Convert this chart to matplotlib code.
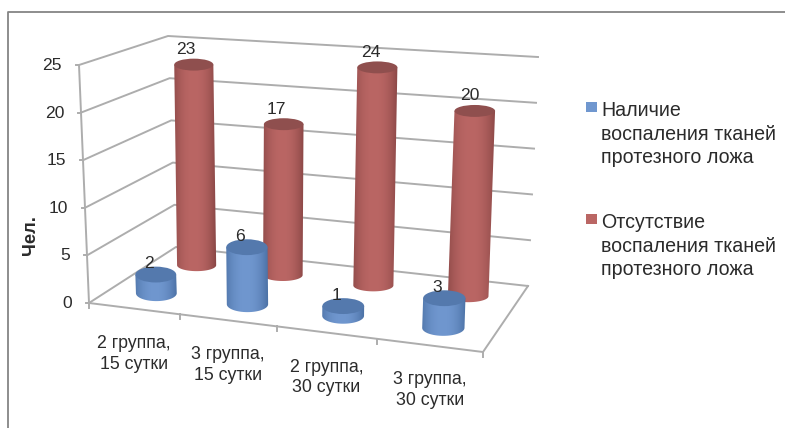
import matplotlib

matplotlib.use("Agg")
import matplotlib.pyplot as plt
import numpy as np
from matplotlib.patches import Ellipse, PathPatch, Rectangle
from matplotlib.path import Path

plt.rcParams["font.family"] = ["Liberation Sans", "DejaVu Sans"]

categories = ["2 группа,\n15 сутки", "3 группа,\n15 сутки", "2 группа,\n30 сутки", "3 группа,\n30 сутки"]
inflamed = [2, 6, 1, 3]
not_inflamed = [23, 17, 24, 20]
y_ticks = [0, 5, 10, 15, 20, 25]
y_label = "Чел."
legend_labels = ["Наличие\nвоспаления тканей\nпротезного ложа", "Отсутствие\nвоспаления тканей\nпротезного ложа"]

# box corners on screen, in pixels: (front-left, back-left, back-right, front-right)
FLOOR = np.array([[89, 303], [176, 247], [528, 286], [483, 352]], dtype=float)
ROOF = np.array([[79, 65], [168, 36], [538, 57], [494, 94]], dtype=float)
VMAX = 25.0
PERSPECTIVE = 0.095

TEXT = "#2b2b2b"
GRID = "#adadad"
RED = {"edge": "#8a4746", "mid": "#ba6664", "top": "#8f4f4e"}
BLUE = {"edge": "#4c72a6", "mid": "#7097cf", "top": "#5479ad"}


def project(u, d, v):
    # u along the categories, d into the depth, v is the chart value
    u = u + PERSPECTIVE * u * (u - 1)

    def corners(c):
        front = c[0] + (c[3] - c[0]) * u
        back = c[1] + (c[2] - c[1]) * u
        return front + (back - front) * d

    low = corners(FLOOR)
    return low + (corners(ROOF) - low) * (v / VMAX)


def to_rgb(h):
    return np.array(matplotlib.colors.to_rgb(h))


def cylinder(ax, u, d, value, colors, zorder):
    bx, by = project(u, d, 0)
    tx, ty = project(u, d, value)
    # the back row leans a little less than the walls do
    tx += 7 * (d - 0.27) * (1 - u)
    ty += 3 * (d - 0.27)
    # farther bars are drawn a bit narrower and flatter
    w = 41.5 - 3.5 * d + 2.0 * u
    h = 18.0 - 8.0 * d
    a = w / 2
    t = np.linspace(0, np.pi, 40)
    lower = np.column_stack([bx + a * np.cos(t), by + h / 2 * np.sin(t)])
    upper = np.array([[tx - a, ty], [tx + a, ty]])
    verts = np.vstack([lower, upper, lower[:1]])
    codes = [Path.MOVETO] + [Path.LINETO] * (len(verts) - 2) + [Path.CLOSEPOLY]
    clip = PathPatch(Path(verts, codes), fc="none", ec="none", transform=ax.transData)
    ax.add_patch(clip)

    # horizontal shading across the body of the cylinder
    s = np.linspace(-1, 1, 128)
    mix = np.clip(1 - np.abs(s + 0.05) ** 2.2, 0, 1)[:, None]
    grad = to_rgb(colors["edge"]) * (1 - mix) + to_rgb(colors["mid"]) * mix
    left, right = min(bx, tx) - a - 1, max(bx, tx) + a + 1
    im = ax.imshow(grad[None, :, :], extent=(left, right, by + h, ty - 1), aspect="auto",
                   interpolation="bilinear", zorder=zorder)
    im.set_clip_path(clip)
    ax.add_patch(Ellipse((tx, ty), w, h, fc=colors["top"], ec="none", zorder=zorder + 0.1))


fig = plt.figure(figsize=(7.85, 4.28), dpi=100, facecolor="white")
ax = fig.add_axes([0, 0, 1, 1])
ax.set_xlim(0, 785)
ax.set_ylim(428, 0)
ax.axis("off")

# outer frame, open at the right and bottom
ax.plot([7.5, 7.5, 785], [428, 11.5, 11.5], color="#858585", lw=1.3, zorder=1)

# floor outline
floor_path = [project(*p, 0) for p in [(0, 0), (1, 0), (1, 1)]]
ax.plot(*zip(*floor_path), color=GRID, lw=1.4, zorder=2)

# gridlines on the left and back walls
for v in y_ticks:
    pts = [project(0, 0, v), project(0, 1, v), project(1, 1, v)]
    ax.plot(*zip(*pts), color=GRID, lw=1.4, zorder=2)
    x, y = project(0, 0, v)
    ax.plot([x - 3, x], [y, y], color=GRID, lw=1.4, zorder=2)
    ax.text(x - 17, y + 0.5, str(v), ha="right", va="center", fontsize=12.6, color=TEXT)
ax.plot(*zip(project(0, 0, 0), project(0, 0, VMAX)), color=GRID, lw=1.4, zorder=2)

# category ticks below the front edge
n = len(categories)
for i in range(n + 1):
    x, y = project(i / n, 0, 0)
    ax.plot([x, x], [y, y + 5], color=GRID, lw=1.4, zorder=2)

for i, label in enumerate(categories):
    x, y = project((i + 0.5) / n, 0, 0)
    ax.text(x, y + 45, label, ha="center", va="center", fontsize=12.8, color=TEXT, linespacing=1.3)

# back row first so the front cylinders sit over it
for i, value in enumerate(not_inflamed):
    u = (i + 0.5) / n
    cylinder(ax, u, 0.76, value, RED, 3 + i * 0.2)
    x, y = project(u, 0.76, value)
    ax.text(x - 5, y - 13.5, str(value), ha="center", va="center", fontsize=12.6, color=TEXT, zorder=8)
for i, value in enumerate(inflamed):
    u = (i + 0.5) / n
    cylinder(ax, u, 0.27, value, BLUE, 5 + i * 0.2)
    x, y = project(u, 0.27, value)
    ax.text(x - 7, y - 11, str(value), ha="center", va="center", fontsize=12.6, color=TEXT, zorder=8)

ax.text(30, 235, y_label, rotation=90, ha="center", va="center", fontsize=13.2, fontweight="bold", color=TEXT)

# legend
for label, color, top in zip(legend_labels, [BLUE["mid"], RED["mid"]], [101, 213]):
    ax.add_patch(Rectangle((586, top + 1), 11, 10, fc=color, ec="none", zorder=4))
    ax.text(601, top, label, ha="left", va="top", fontsize=14.1, color=TEXT, linespacing=1.3)

ax.set_xlim(0, 785)
ax.set_ylim(428, 0)
fig.savefig("out.png", dpi=100)
